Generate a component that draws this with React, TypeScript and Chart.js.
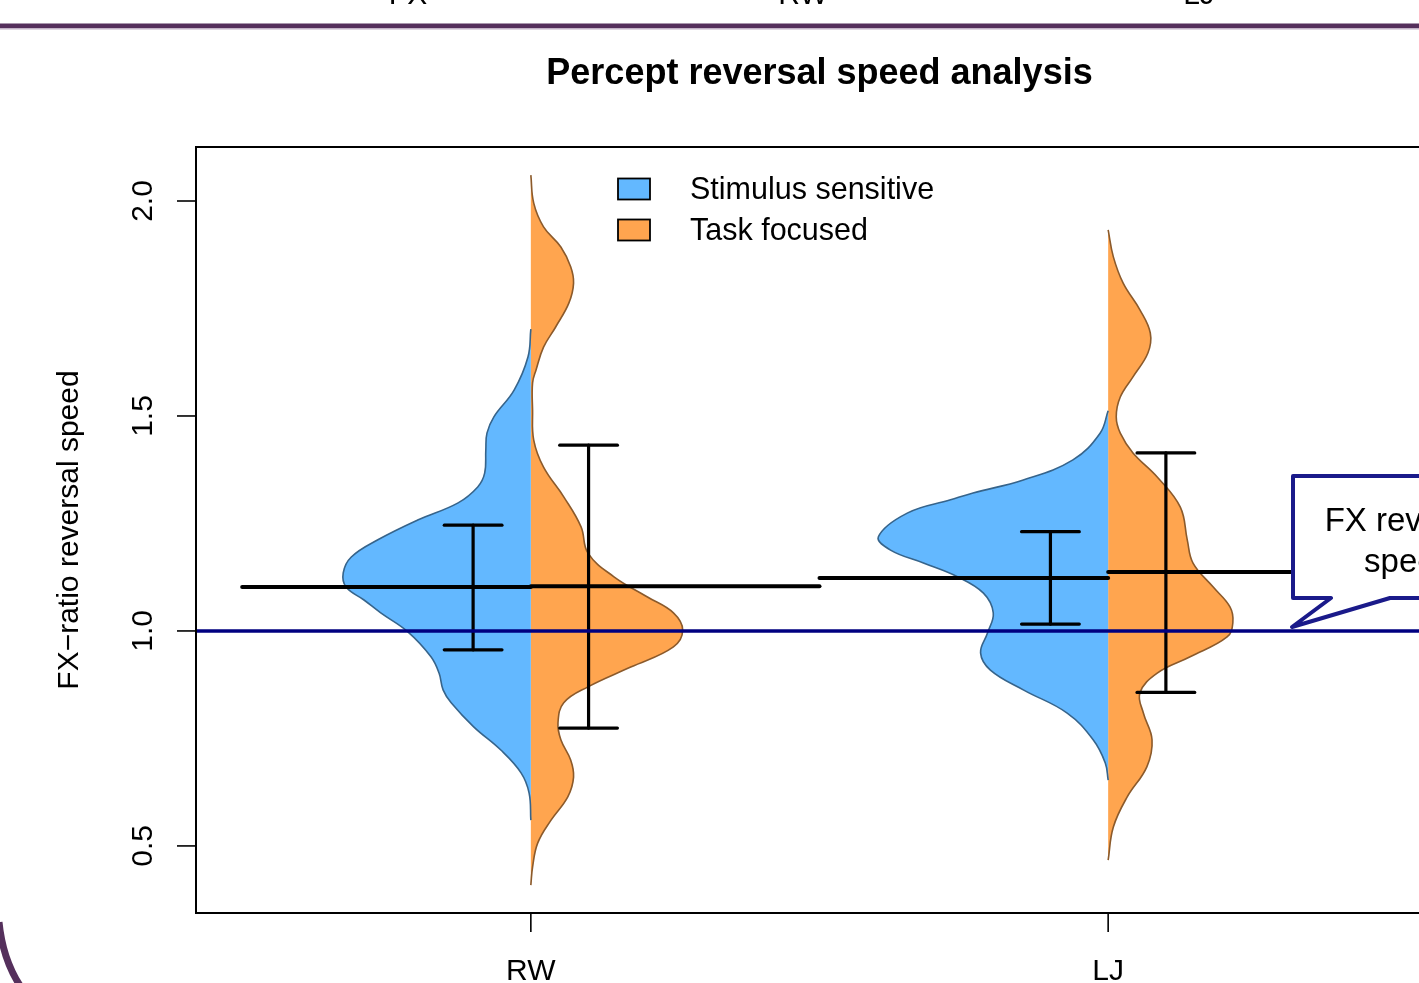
import React, { useEffect, useRef } from 'react';
import { Chart, registerables } from 'chart.js';

Chart.register(...registerables);

// ---- data ----
const categories = ['RW', 'LJ'];
const categoryPos = [1, 2];
const groupNames = ['Stimulus sensitive', 'Task focused'];
const yTickValues = [0.5, 1.0, 1.5, 2.0];
const yTickLabels = ['0.5', '1.0', '1.5', '2.0'];
const referenceValue = 1.0;

// half-violin outlines: value grid and half-width (density, category units)
const rwStimVals = [1.702, 1.637, 1.56, 1.498, 1.46, 1.421, 1.367, 1.335, 1.298, 1.258, 1.212, 1.172, 1.135, 1.102, 1.072, 1.042, 0.998, 0.94, 0.902, 0.863, 0.833, 0.777, 0.723, 0.67, 0.623, 0.56];
const rwStimDens = [0, 0.005, 0.029, 0.064, 0.076, 0.078, 0.08, 0.092, 0.126, 0.196, 0.265, 0.311, 0.325, 0.32, 0.289, 0.26, 0.213, 0.173, 0.159, 0.152, 0.138, 0.099, 0.052, 0.017, 0.003, 0];

const rwTaskVals = [2.06, 1.995, 1.94, 1.893, 1.847, 1.809, 1.763, 1.707, 1.66, 1.607, 1.577, 1.514, 1.444, 1.381, 1.312, 1.242, 1.181, 1.126, 1.079, 1.042, 1.002, 0.963, 0.916, 0.87, 0.833, 0.786, 0.747, 0.7, 0.66, 0.614, 0.56, 0.507, 0.451, 0.409];
const rwTaskDens = [0, 0.005, 0.022, 0.052, 0.069, 0.074, 0.066, 0.043, 0.022, 0.009, 0.003, 0.003, 0.005, 0.022, 0.057, 0.087, 0.099, 0.144, 0.202, 0.247, 0.263, 0.247, 0.173, 0.099, 0.057, 0.047, 0.052, 0.069, 0.074, 0.064, 0.035, 0.012, 0.003, 0];

const ljStimVals = [1.512, 1.46, 1.398, 1.351, 1.321, 1.305, 1.274, 1.219, 1.188, 1.158, 1.126, 1.088, 1.042, 0.995, 0.949, 0.909, 0.863, 0.809, 0.747, 0.693, 0.653];
const ljStimDens = [0, 0.014, 0.061, 0.147, 0.234, 0.273, 0.348, 0.398, 0.377, 0.32, 0.261, 0.216, 0.199, 0.209, 0.221, 0.204, 0.147, 0.071, 0.026, 0.005, 0];

const ljTaskVals = [1.933, 1.87, 1.809, 1.747, 1.693, 1.647, 1.591, 1.544, 1.498, 1.46, 1.414, 1.358, 1.288, 1.212, 1.158, 1.102, 1.056, 1.019, 0.986, 0.94, 0.902, 0.856, 0.809, 0.747, 0.684, 0.614, 0.544, 0.467];
const ljTaskDens = [0, 0.009, 0.026, 0.055, 0.073, 0.069, 0.043, 0.021, 0.014, 0.021, 0.043, 0.085, 0.125, 0.137, 0.147, 0.182, 0.211, 0.216, 0.206, 0.142, 0.085, 0.055, 0.061, 0.076, 0.067, 0.033, 0.009, 0];

const stimMeans = [1.102, 1.123];
const taskMeans = [1.104, 1.137];
const stimLow = [0.956, 1.016];
const stimHigh = [1.246, 1.231];
const taskLow = [0.774, 0.857];
const taskHigh = [1.432, 1.414];

const previousSlideLabels = ['FX', 'RW', 'LJ'];
const calloutLines = ['FX reversal', 'speed'];

const titleText = 'Percept reversal speed analysis';
const yAxisTitle = 'FX\u2212ratio reversal speed';

// ---- styles ----
const BLUE_FILL = '#63B8FF';
const BLUE_LINE = '#36648B';
const ORANGE_FILL = '#FFA54F';
const ORANGE_LINE = '#8B5A2B';
const NAVY = '#000080';
const PURPLE = '#55305c';
const FONT = '"Liberation Sans", Arial, Helvetica, sans-serif';

const X_MIN = 0.42;
const X_MAX = 2.58;
const Y_MIN = 0.344;
const Y_MAX = 2.1256;
const CANVAS_W = 1460;
const CANVAS_H = 983;

function seg(x1: number, y1: number, x2: number, y2: number, width: number, color: string, order: number, cap: string) {
  return {
    type: 'line',
    data: [{ x: x1, y: y1 }, { x: x2, y: y2 }],
    borderColor: color,
    borderWidth: width,
    borderCapStyle: cap,
    pointRadius: 0,
    fill: false,
    tension: 0,
    order,
  };
}

function violin(pos: number, vals: number[], dens: number[], side: number, fillC: string, lineC: string) {
  return {
    type: 'line',
    data: vals.map((v, i) => ({ x: pos + side * dens[i], y: v })),
    borderColor: lineC,
    backgroundColor: fillC,
    borderWidth: 1.6,
    pointRadius: 0,
    fill: 'shape',
    tension: 0.4,
    order: 5,
  };
}

function buildDatasets() {
  const ds: any[] = [];
  const stimV = [rwStimVals, ljStimVals];
  const stimD = [rwStimDens, ljStimDens];
  const taskV = [rwTaskVals, ljTaskVals];
  const taskD = [rwTaskDens, ljTaskDens];
  categoryPos.forEach((p, i) => {
    ds.push(violin(p, stimV[i], stimD[i], -1, BLUE_FILL, BLUE_LINE));
    ds.push(violin(p, taskV[i], taskD[i], 1, ORANGE_FILL, ORANGE_LINE));
  });
  const cap = 0.05;
  categoryPos.forEach((p, i) => {
    // mean lines
    ds.push(seg(p - 0.5, stimMeans[i], p, stimMeans[i], 4, '#000', 3, 'round'));
    ds.push(seg(p, taskMeans[i], p + 0.5, taskMeans[i], 4, '#000', 3, 'round'));
    // error bars
    const bars = [
      { c: p - 0.1, lo: stimLow[i], hi: stimHigh[i] },
      { c: p + 0.1, lo: taskLow[i], hi: taskHigh[i] },
    ];
    bars.forEach((b) => {
      ds.push(seg(b.c, b.lo, b.c, b.hi, 3.2, '#000', 3, 'round'));
      ds.push(seg(b.c - cap, b.lo, b.c + cap, b.lo, 3.2, '#000', 3, 'round'));
      ds.push(seg(b.c - cap, b.hi, b.c + cap, b.hi, 3.2, '#000', 3, 'round'));
    });
  });
  ds.push(seg(X_MIN, referenceValue, X_MAX, referenceValue, 3.6, NAVY, 1, 'butt'));
  return ds;
}

const decorPlugin = {
  id: 'decor',
  afterDraw(chart: any) {
    const ctx: CanvasRenderingContext2D = chart.ctx;
    const { left, top, right, bottom } = chart.chartArea;
    const xs = chart.scales.x;
    const ys = chart.scales.y;
    ctx.save();

    // slide header remnants
    ctx.fillStyle = '#000';
    ctx.font = `30px ${FONT}`;
    ctx.textAlign = 'center';
    ctx.textBaseline = 'alphabetic';
    const prevX = [408, 803, 1199];
    previousSlideLabels.forEach((t, i) => ctx.fillText(t, prevX[i], 4));
    ctx.fillStyle = PURPLE;
    ctx.fillRect(0, 23.5, CANVAS_W, 4.5);
    ctx.fillStyle = '#c2b2c6';
    ctx.fillRect(0, 28, CANVAS_W, 1.5);

    // slide frame corner
    ctx.strokeStyle = PURPLE;
    ctx.lineWidth = 7;
    ctx.beginPath();
    ctx.moveTo(-1, 922);
    ctx.quadraticCurveTo(3, 962, 23, 990);
    ctx.stroke();

    // plot box
    ctx.strokeStyle = '#000';
    ctx.lineWidth = 2;
    ctx.strokeRect(left, top, right - left, bottom - top);

    // y axis
    ctx.lineWidth = 1.6;
    ctx.fillStyle = '#000';
    ctx.font = `30px ${FONT}`;
    yTickValues.forEach((v, i) => {
      const py = ys.getPixelForValue(v);
      ctx.beginPath();
      ctx.moveTo(left - 19, py);
      ctx.lineTo(left, py);
      ctx.stroke();
      ctx.save();
      ctx.translate(152, py);
      ctx.rotate(-Math.PI / 2);
      ctx.textAlign = 'center';
      ctx.textBaseline = 'alphabetic';
      ctx.fillText(yTickLabels[i], 0, 0);
      ctx.restore();
    });
    ctx.save();
    ctx.translate(78, (top + bottom) / 2);
    ctx.rotate(-Math.PI / 2);
    ctx.textAlign = 'center';
    ctx.textBaseline = 'alphabetic';
    ctx.fillText(yAxisTitle, 0, 0);
    ctx.restore();

    // x axis
    categoryPos.forEach((p, i) => {
      const px = xs.getPixelForValue(p);
      ctx.beginPath();
      ctx.moveTo(px, bottom);
      ctx.lineTo(px, bottom + 19);
      ctx.stroke();
      ctx.textAlign = 'center';
      ctx.textBaseline = 'alphabetic';
      ctx.fillText(categories[i], px, 980);
    });

    // title
    ctx.font = `bold 36px ${FONT}`;
    ctx.textAlign = 'center';
    ctx.fillText(titleText, (left + right) / 2, 84);

    // legend
    const fills = [BLUE_FILL, ORANGE_FILL];
    const boxY = [178.5, 219.5];
    const textY = [198.5, 240];
    ctx.font = `30.5px ${FONT}`;
    ctx.textAlign = 'left';
    groupNames.forEach((g, i) => {
      ctx.fillStyle = fills[i];
      ctx.fillRect(618, boxY[i], 32, 21);
      ctx.strokeStyle = '#000';
      ctx.lineWidth = 1.8;
      ctx.strokeRect(618, boxY[i], 32, 21);
      ctx.fillStyle = '#000';
      ctx.fillText(g, 690, textY[i]);
    });

    // callout
    ctx.beginPath();
    ctx.moveTo(1293, 476);
    ctx.lineTo(CANVAS_W + 10, 476);
    ctx.lineTo(CANVAS_W + 10, 598);
    ctx.lineTo(1390, 598);
    ctx.lineTo(1292, 627);
    ctx.lineTo(1331, 598);
    ctx.lineTo(1293, 598);
    ctx.closePath();
    ctx.fillStyle = '#fff';
    ctx.fill();
    ctx.strokeStyle = '#1a1a8a';
    ctx.lineWidth = 4;
    ctx.lineJoin = 'round';
    ctx.stroke();
    ctx.fillStyle = '#000';
    ctx.font = `33px ${FONT}`;
    ctx.textAlign = 'center';
    ctx.fillText(calloutLines[0], 1409, 531);
    ctx.fillText(calloutLines[1], 1409, 572);

    ctx.restore();
  },
};

export default function App() {
  const canvasRef = useRef<HTMLCanvasElement | null>(null);

  useEffect(() => {
    const canvas = canvasRef.current;
    if (!canvas) return;
    const chart = new Chart(canvas, {
      type: 'line',
      data: { datasets: buildDatasets() },
      options: {
        responsive: false,
        animation: false,
        events: [],
        devicePixelRatio: 1,
        layout: {
          padding: { left: 196, top: 147, right: CANVAS_W - 1443, bottom: CANVAS_H - 913 },
        },
        scales: {
          x: { type: 'linear', min: X_MIN, max: X_MAX, display: false },
          y: { type: 'linear', min: Y_MIN, max: Y_MAX, display: false },
        },
        plugins: {
          legend: { display: false },
          tooltip: { enabled: false },
          title: { display: false },
        },
      } as any,
      plugins: [decorPlugin],
    } as any);
    return () => chart.destroy();
  }, []);

  return (
    <div
      style={{
        position: 'fixed',
        left: 0,
        top: 0,
        width: 1419,
        height: 983,
        overflow: 'hidden',
        background: '#fff',
      }}
    >
      <canvas
        ref={canvasRef}
        width={CANVAS_W}
        height={CANVAS_H}
        style={{ display: 'block', width: CANVAS_W, height: CANVAS_H }}
      />
    </div>
  );
}
